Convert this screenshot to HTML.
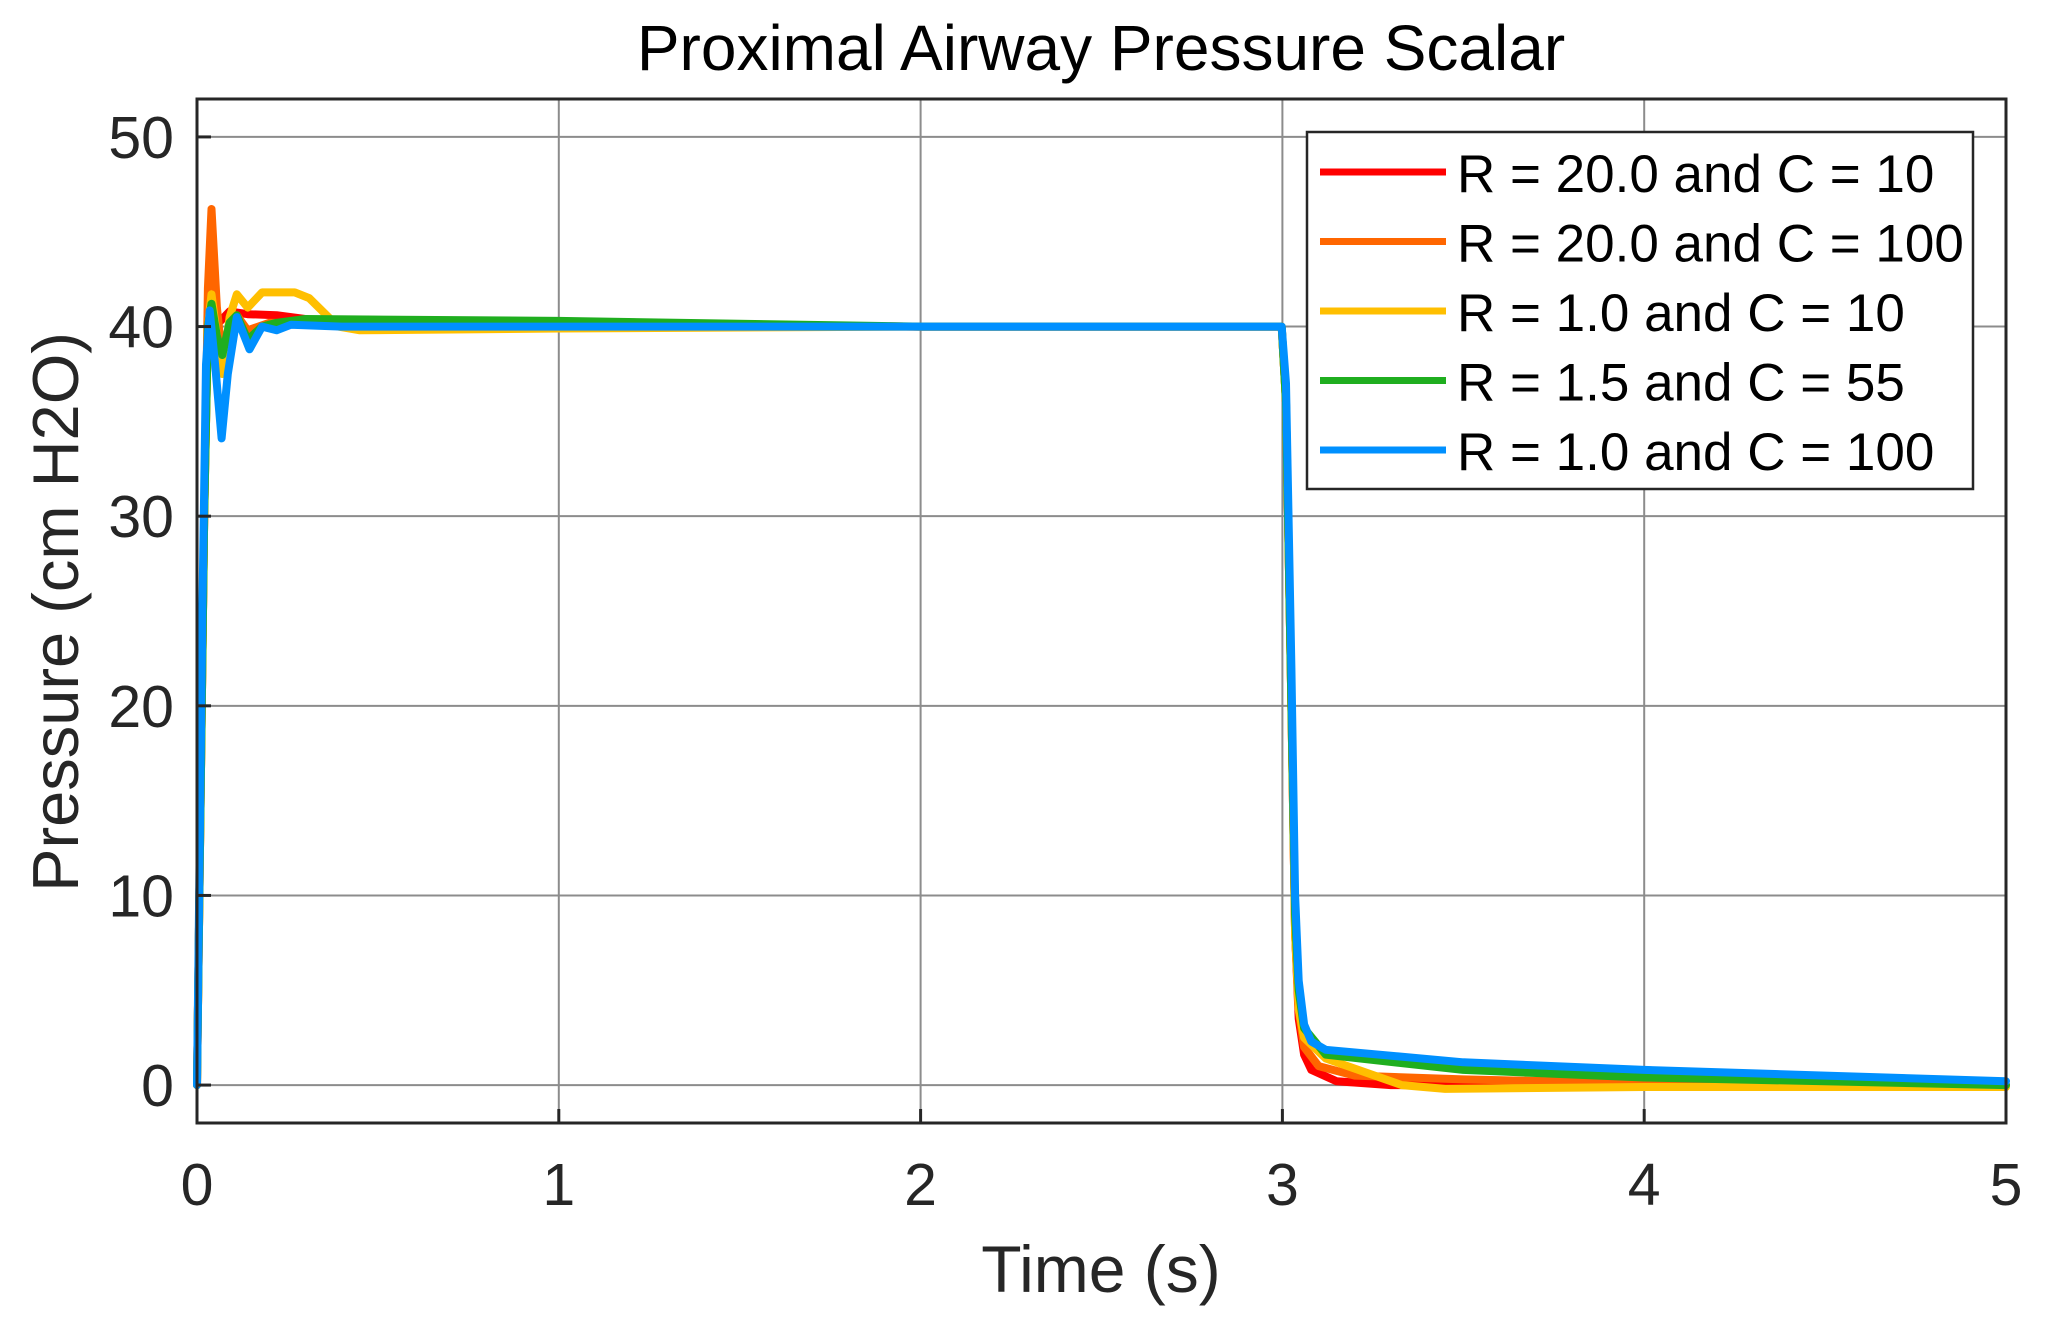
<!DOCTYPE html>
<html><head><meta charset="utf-8">
<style>
html,body{margin:0;padding:0;background:#fff;}
svg{display:block;font-family:"Liberation Sans",Arial,sans-serif;}
</style></head>
<body>
<svg id="chart" width="2063" height="1336" viewBox="0 0 2063 1336" xmlns="http://www.w3.org/2000/svg">
<rect width="2063" height="1336" fill="#fff"/>
<text x="1101" y="70" font-size="64" text-anchor="middle" fill="#000">Proximal Airway Pressure Scalar</text>
<g id="grid"></g>
<g id="series"></g>
<g id="axes"></g>
<text x="1101" y="1292" font-size="66" text-anchor="middle" fill="#262626">Time (s)</text>
<text transform="translate(78,612) rotate(-90)" font-size="65" text-anchor="middle" fill="#262626">Pressure (cm H2O)</text>
<g id="legend"></g>
</svg>
<script>
const xTicks=[0,1,2,3,4,5];
const yTicks=[0,10,20,30,40,50];
const seriesNames=["R = 20.0 and C = 10","R = 20.0 and C = 100","R = 1.0 and C = 10","R = 1.5 and C = 55","R = 1.0 and C = 100"];
const seriesColors=["#ff0000","#ff6600","#ffbf00","#1fae1f","#0090ff"];
const tRed=[0,0.02,0.03,0.04,0.06,0.09,0.14,0.22,0.38,1,2,2.998,3.01,3.025,3.035,3.045,3.06,3.08,3.15,3.3,4,5];
const vRed=[0,30,40,41.2,40.2,40.8,40.65,40.6,40.2,40.1,40,40,36,20,8,3.5,1.6,0.8,0.2,0,0,0];
const tOrange=[0,0.02,0.03,0.04,0.055,0.07,0.09,0.11,0.14,0.2,0.4,1,2,2.998,3.01,3.025,3.035,3.045,3.06,3.1,3.2,3.5,4,5];
const vOrange=[0,30,42,46.2,41,38.3,40.2,40.6,39.8,40.2,40.1,40.1,40,40,36,20,8,4,2,1.0,0.5,0.3,0.1,0];
const tYellow=[0,0.02,0.03,0.04,0.055,0.07,0.09,0.11,0.14,0.18,0.27,0.31,0.39,0.45,1,2,2.998,3.01,3.025,3.035,3.045,3.06,3.12,3.33,3.45,4,5];
const vYellow=[0,30,40,41.7,39.5,37.5,40.5,41.7,41.0,41.8,41.8,41.5,40,39.8,39.9,40,40,36,20,8,4,2.5,1.4,0,-0.2,-0.1,-0.1];
const tGreen=[0,0.02,0.03,0.04,0.055,0.07,0.09,0.11,0.14,0.18,0.22,0.3,1,2,2.998,3.01,3.025,3.035,3.045,3.06,3.12,3.5,4,5];
const vGreen=[0,30,40,41.2,39.5,38.5,40.2,40.6,39.3,40.0,40.2,40.4,40.3,40,40,36,20,9,5,3,1.6,0.8,0.4,0];
const tBlue=[0,0.015,0.025,0.035,0.05,0.068,0.085,0.11,0.145,0.18,0.22,0.26,0.4,1,2,2.998,3.01,3.025,3.035,3.045,3.06,3.08,3.12,3.5,4,4.5,5];
const vBlue=[0,25,38,40.85,38,34.1,37.5,40.5,38.8,40.0,39.8,40.1,40,40,40,40,37,22,10,5.5,3.2,2.3,1.86,1.2,0.8,0.5,0.2];
const tData=[tRed,tOrange,tYellow,tGreen,tBlue];
const vData=[vRed,vOrange,vYellow,vGreen,vBlue];

const L=197,R=2006,T=99,B=1123,XMIN=0,XMAX=5,YMIN=-2,YMAX=52;
const NS="http://www.w3.org/2000/svg";
function xs(t){return L+(t-XMIN)/(XMAX-XMIN)*(R-L);}
function ys(v){return B-(v-YMIN)/(YMAX-YMIN)*(B-T);}
function mk(tag,attrs,parent){const e=document.createElementNS(NS,tag);for(const k in attrs)e.setAttribute(k,attrs[k]);parent.appendChild(e);return e;}
const grid=document.getElementById('grid'),axes=document.getElementById('axes'),series=document.getElementById('series'),legend=document.getElementById('legend');
xTicks.forEach(t=>{
  const g=mk('line',{x1:xs(t),x2:xs(t),y1:T,y2:B,stroke:'#8c8c8c','stroke-width':2},grid);
  
  
  const tk=mk('line',{x1:xs(t),x2:xs(t),y1:B,y2:B-14,stroke:'#262626','stroke-width':3},axes);
  
  
  const tx=mk('text',{x:xs(t),y:1205,'font-size':59,'text-anchor':'middle',fill:'#262626'},axes);
  tx.textContent=t;
  
  
});
yTicks.forEach(v=>{
  const g=mk('line',{x1:L,x2:R,y1:ys(v),y2:ys(v),stroke:'#8c8c8c','stroke-width':2},grid);
  
  
  const tk=mk('line',{x1:L,x2:L+14,y1:ys(v),y2:ys(v),stroke:'#262626','stroke-width':3},axes);
  
  
  const tx=mk('text',{x:174,y:ys(v)+21,'font-size':59,'text-anchor':'end',fill:'#262626'},axes);
  tx.textContent=v;
  
  
});
const box=mk('rect',{x:L,y:T,width:R-L,height:B-T,fill:'none',stroke:'#262626','stroke-width':3},axes);


tData.forEach((ts,i)=>{
  const pts=ts.map((t,j)=>xs(t).toFixed(1)+','+ys(vData[i][j]).toFixed(1)).join(' ');
  const p=mk('polyline',{points:pts,fill:'none',stroke:seriesColors[i],'stroke-width':8,'stroke-linejoin':'round','stroke-linecap':'round'},series);
  
  
});
const lb=mk('rect',{x:1307,y:132,width:666,height:357,fill:'#fff',stroke:'#262626','stroke-width':2.5},legend);


seriesNames.forEach((n,i)=>{
  const y=172+i*69.5;
  const ln=mk('line',{x1:1320,x2:1446,y1:y,y2:y,stroke:seriesColors[i],'stroke-width':7},legend);
  
  
  const tx=mk('text',{x:1457,y:y+20,'font-size':53,fill:'#000'},legend);
  tx.textContent=n;
  
  
});
</script>
</body></html>
